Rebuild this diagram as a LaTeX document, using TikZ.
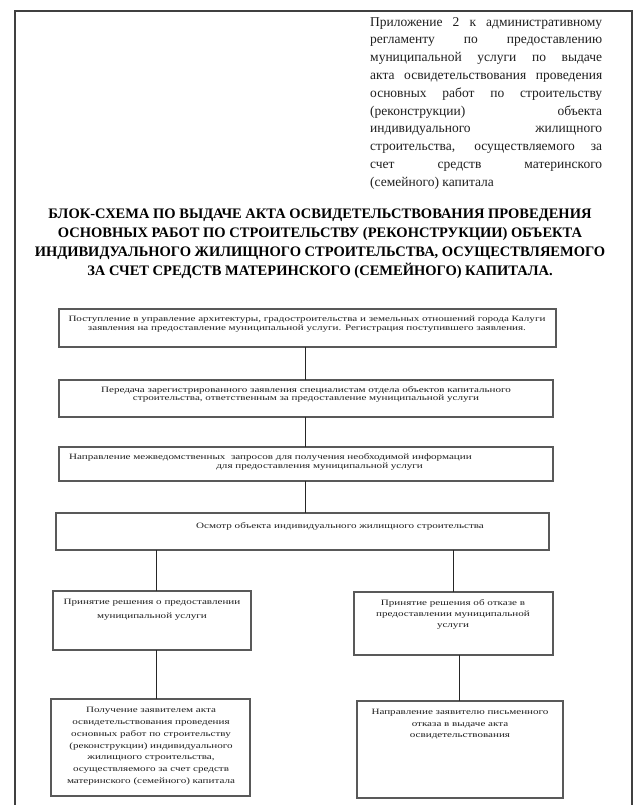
\documentclass[tikz,border=0pt]{standalone}
\usepackage{graphicx}
\usepackage{fontspec}
\setmainfont{Liberation Serif}
\newcommand{\jl}[1]{\makebox[232pt][s]{#1}}
\newcommand{\sxc}[1]{\scalebox{1.35}[1]{\begin{tabular}{@{}c@{}}#1\end{tabular}}}
\newcommand{\sxl}[1]{\scalebox{1.35}[1]{\begin{tabular}{@{}l@{}}#1\end{tabular}}}
\newcommand{\bx}[5]{\node[boxst, minimum width={(#4-#2)*1pt}, minimum height={(#5-#3)*1pt}] (#1) at ({(#2+#4)/2},{(#3+#5)/2}) {};}
\tikzset{
  boxst/.style={draw=black!65, line width=1.2pt, inner sep=0pt, outer sep=0pt},
  conn/.style={draw=black!85, line width=0.8pt},
  framest/.style={draw=black!75, line width=1.4pt},
  txt/.style={inner sep=0pt, text=black!88, font=\fontsize{8.2}{8.8}\selectfont},
  txtl/.style={inner sep=0pt, text=black!88, font=\fontsize{8.2}{11.8}\selectfont},
}
\begin{document}
\begin{tikzpicture}[x=1pt,y=-1pt]
\useasboundingbox (0,0) rectangle (641,805);
\draw[framest] (15,805) -- (15,11) -- (632,11) -- (632,805);

\node[inner sep=0pt, anchor=north west, align=left, text=black!88, font=\fontsize{13.5}{17.8}\selectfont] (app) at (370,17) {%
\jl{Приложение 2 к административному}\\
\jl{регламенту по предоставлению}\\
\jl{муниципальной услуги по выдаче}\\
\jl{акта освидетельствования проведения}\\
\jl{основных работ по строительству}\\
\jl{(реконструкции) объекта}\\
\jl{индивидуального жилищного}\\
\jl{строительства, осуществляемого за}\\
\jl{счет средств материнского}\\
(семейного) капитала};

\node[inner sep=0pt, anchor=north, align=center, text=black, font=\fontsize{14.5}{19}\selectfont\bfseries] (title) at (320,209) {%
БЛОК-СХЕМА ПО ВЫДАЧЕ АКТА ОСВИДЕТЕЛЬСТВОВАНИЯ ПРОВЕДЕНИЯ\\
ОСНОВНЫХ РАБОТ ПО СТРОИТЕЛЬСТВУ (РЕКОНСТРУКЦИИ) ОБЪЕКТА\\
ИНДИВИДУАЛЬНОГО ЖИЛИЩНОГО СТРОИТЕЛЬСТВА, ОСУЩЕСТВЛЯЕМОГО\\
ЗА СЧЕТ СРЕДСТВ МАТЕРИНСКОГО (СЕМЕЙНОГО) КАПИТАЛА.};

\bx{b1}{59}{309}{556}{347}
\bx{b2}{59}{380}{553}{417}
\bx{b3}{59}{447}{553}{481}
\bx{b4}{56}{513}{549}{550}
\bx{b5}{53}{591}{251}{650}
\bx{b6}{354}{592}{553}{655}
\bx{b7}{51}{699}{250}{796}
\bx{b8}{357}{701}{563}{798}

\node[txt, anchor=north] (t1) at (307,315.0) {\sxc{Поступление в управление архитектуры, градостроительства и земельных отношений города Калуги\\заявления на предоставление муниципальной услуги. Регистрация поступившего заявления.}};
\node[txt, anchor=north] (t2) at (306,385.7) {\sxc{Передача зарегистрированного заявления специалистам отдела объектов капитального\\строительства, ответственным за предоставление муниципальной услуги}};
\node[txt, anchor=north west] (t3) at (69,453.0) {\sxl{Направление межведомственных\ \ запросов для получения необходимой информации\\\hspace*{109pt}для предоставления муниципальной услуги}};
\node[txt, anchor=north] (t4) at (340,521.7) {\sxc{Осмотр объекта индивидуального жилищного строительства}};
\node[txtl, anchor=north, font=\fontsize{8.2}{13.7}\selectfont] (t5) at (152,594.6) {\sxc{Принятие решения о предоставлении\\муниципальной услуги}};
\node[txtl, anchor=north, font=\fontsize{8.2}{11.2}\selectfont] (t6) at (453,597.4) {\sxc{Принятие решения об отказе в\\предоставлении муниципальной\\услуги}};
\node[txtl, anchor=north] (t7) at (151,704.3) {\sxc{Получение заявителем акта\\освидетельствования проведения\\основных работ по строительству\\(реконструкции) индивидуального\\жилищного строительства,\\осуществляемого за счет средств\\материнского (семейного) капитала}};
\node[txtl, anchor=north] (t8) at (460,705.9) {\sxc{Направление заявителю письменного\\отказа в выдаче акта\\освидетельствования}};

\coordinate (cx) at (305,0);
\coordinate (cl) at (156,0);
\coordinate (cr) at (453,0);
\coordinate (cr2) at (459,0);
\draw[conn] (b1.south -| cx) -- (b2.north -| cx);
\draw[conn] (b2.south -| cx) -- (b3.north -| cx);
\draw[conn] (b3.south -| cx) -- (b4.north -| cx);
\draw[conn] (b4.south -| cl) -- (b5.north -| cl);
\draw[conn] (b4.south -| cr) -- (b6.north -| cr);
\draw[conn] (b5.south -| cl) -- (b7.north -| cl);
\draw[conn] (b6.south -| cr2) -- (b8.north -| cr2);
\end{tikzpicture}
\end{document}
